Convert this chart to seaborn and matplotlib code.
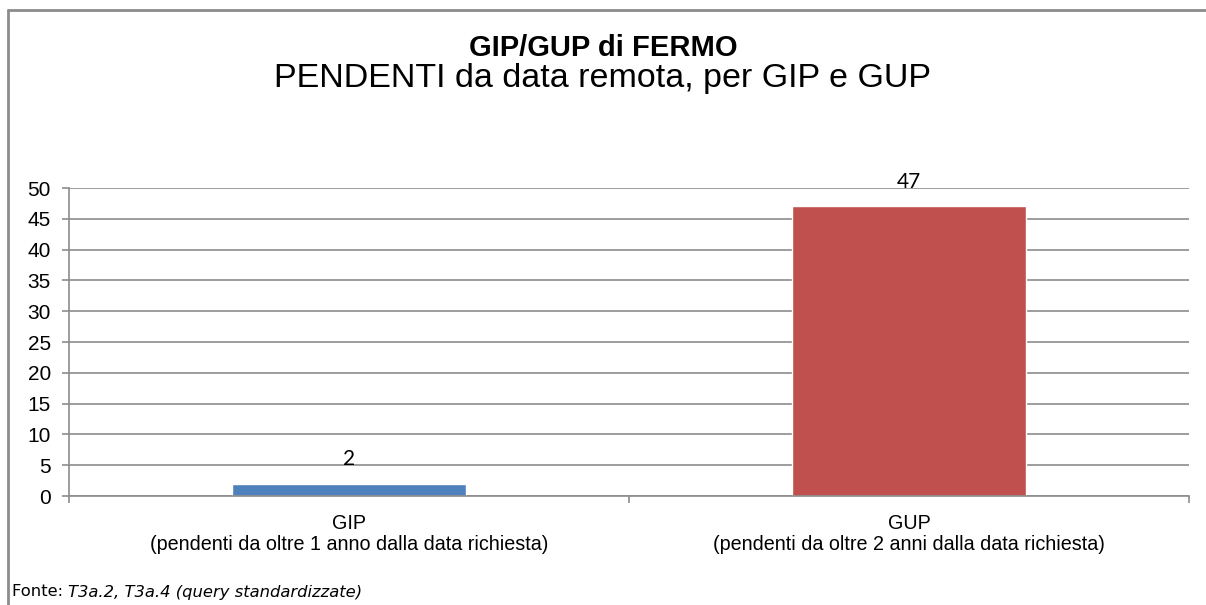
import matplotlib
matplotlib.use("Agg")
import matplotlib.pyplot as plt
import pandas as pd
import seaborn as sns
from matplotlib.lines import Line2D

# Data
categorie = ["GIP\n(pendenti da oltre 1 anno dalla data richiesta)",
             "GUP\n(pendenti da oltre 2 anni dalla data richiesta)"]
pendenti = [2, 47]
colori = ["#4F81BD", "#C0504D"]
y_ticks = [0, 5, 10, 15, 20, 25, 30, 35, 40, 45, 50]

df = pd.DataFrame({"categoria": categorie, "pendenti": pendenti})

sns.set_style("white")
plt.rcParams["font.family"] = ["Liberation Sans", "DejaVu Sans"]
plt.rcParams["text.color"] = "black"

fig = plt.figure(figsize=(12.06, 6.05), dpi=100)
ax = fig.add_axes([69 / 1206, 1 - 496 / 605, 1120 / 1206, 308 / 605])

sns.barplot(data=df, x="categoria", y="pendenti", hue="categoria",
            palette=colori, width=0.417, saturation=1, legend=False, ax=ax)

ax.set_xlim(-0.5, 1.5)
ax.set_ylim(0, 50)
ax.set_yticks(y_ticks)
ax.yaxis.grid(True, color="#8c8c8c", linewidth=1.2)
ax.set_axisbelow(True)
for s in ["top", "right"]:
    ax.spines[s].set_visible(False)
for s in ["left", "bottom"]:
    ax.spines[s].set_color("#8c8c8c")
    ax.spines[s].set_linewidth(1.2)

ax.set_xlabel("")
ax.set_ylabel("")
ax.tick_params(axis="y", labelsize=15, length=5, width=1.2, color="#8c8c8c",
               left=True, pad=8, labelcolor="black")
ax.tick_params(axis="x", which="major", labelsize=14.2, length=0, pad=13,
               labelcolor="black")
ax.set_xticks([-0.5, 0.5, 1.5], minor=True)
ax.tick_params(axis="x", which="minor", length=5, width=1.2, color="#8c8c8c",
               bottom=True)
for lbl in ax.get_xticklabels():
    lbl.set_linespacing(1.1)

for i, v in enumerate(pendenti):
    ax.annotate(str(v), (i, v), xytext=(0, 13.5), textcoords="offset points",
                ha="center", va="baseline", fontsize=15, color="black",
                family=["Lato", "DejaVu Sans"], clip_on=False)

fig.text(0.5, 1 - 48 / 605, "GIP/GUP di FERMO", ha="center", va="center",
         fontsize=21, fontweight="bold", color="black")
fig.text(0.5, 1 - 79 / 605, "PENDENTI da data remota, per GIP e GUP",
         ha="center", va="center", fontsize=24.5, color="black")

fonte = fig.text(12 / 1206, 1 - 592 / 605, "Fonte: ", ha="left", va="center",
                 fontsize=11.8, family=["DejaVu Sans"], color="black")
ax.annotate("T3a.2, T3a.4 (query standardizzate)", xy=(1, 0.5),
            xycoords=fonte, ha="left", va="center", fontsize=11.8,
            style="italic", color="black", family=["DejaVu Sans"],
            annotation_clip=False)

# Outer frame (top and left edges visible)
fig.add_artist(Line2D([7.5 / 1206, 7.5 / 1206], [0, 1 - 9.5 / 605],
                      color="#8c8c8c", linewidth=2, transform=fig.transFigure))
fig.add_artist(Line2D([7.5 / 1206, 1], [1 - 9.5 / 605, 1 - 9.5 / 605],
                      color="#8c8c8c", linewidth=2, transform=fig.transFigure))

fig.savefig("out.png", dpi=100, facecolor="white")
